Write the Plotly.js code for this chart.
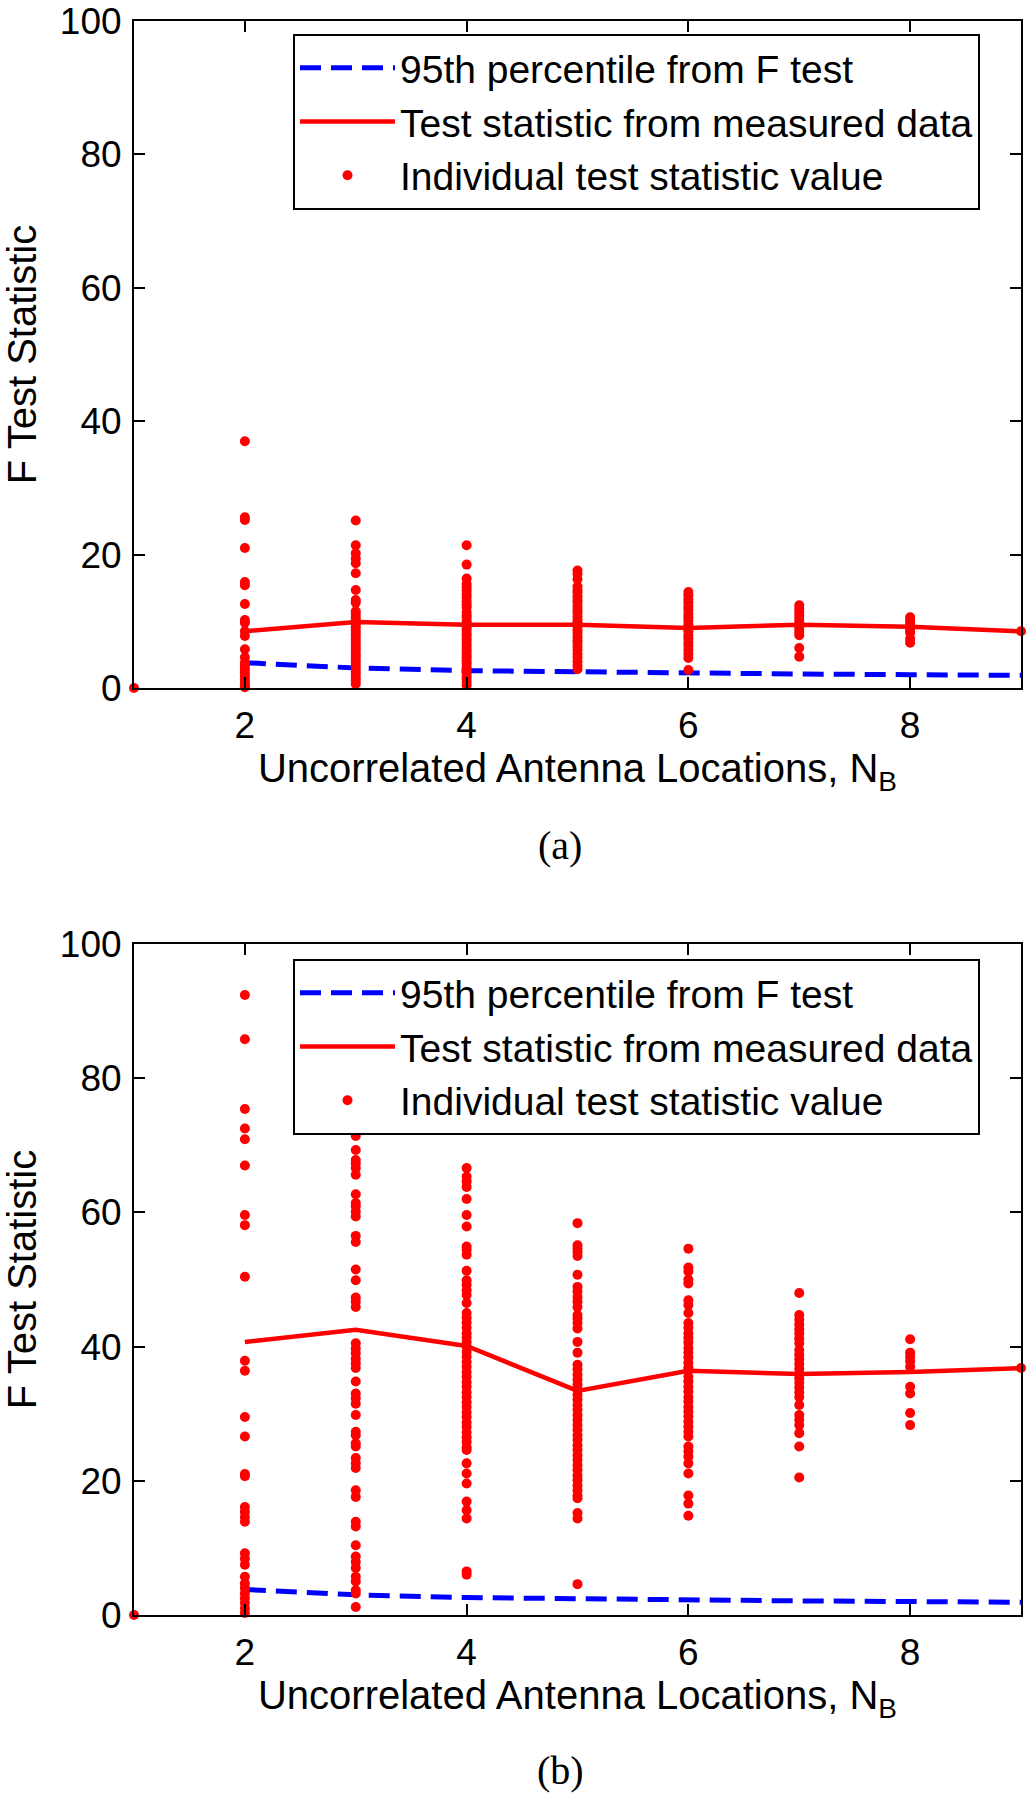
<!DOCTYPE html>
<html>
<head>
<meta charset="utf-8">
<script src="https://cdn.plot.ly/plotly-3.0.1.min.js"></script>
<style>
  body { margin: 0; background: #fff; }
  #chart { width: 1032px; height: 1800px; }
</style>
</head>
<body>
<div id="chart"></div>
<script>
const FONT = 'Liberation Sans, Arial, sans-serif'
const COLOR_RED = '#ff0000'
const COLOR_BLUE = '#0000ff'

// uncorrelated antenna locations N_B
const nb = [2, 3, 4, 5, 6, 7, 8, 9]

// 95th percentile from F test (same curve in both panels)
const fCrit = [3.8, 3.0, 2.6, 2.4, 2.2, 2.1, 2.0, 1.9]

// panel (a): test statistic from measured data
const statA = [8.5, 9.9, 9.5, 9.5, 9.0, 9.5, 9.2, 8.5]
// panel (a): individual values per N_B
const ptsA1 = [0]
const ptsA2 = [37.0, 25.6, 25.2, 21.0, 15.9, 15.4, 12.6, 10.2, 9.8, 8.5, 7.8, 5.8, 4.6, 3.8, 3.3, 2.8, 2.3, 1.8, 1.3, 0.8, 0.4, 0.1]
const ptsA3 = [25.1, 21.4, 20.2, 19.4, 18.7, 17.2, 14.7, 13.2, 12.8, 11.5, 11.1, 10.6, 10.2, 9.9, 9.5, 9.1, 8.6, 8.2, 7.8, 7.3, 6.9, 6.4, 6.0, 5.6, 5.1, 4.7, 4.2, 3.8, 3.3, 2.9, 2.4, 2.0, 1.5, 1.1, 0.6]
const ptsA4 = [21.4, 18.5, 16.4, 15.6, 15.1, 14.6, 14.1, 13.6, 13.0, 12.5, 12.1, 11.4, 10.9, 10.5, 10.0, 9.6, 9.1, 8.7, 8.2, 7.8, 7.3, 6.9, 6.4, 5.9, 5.5, 5.0, 4.6, 4.1, 3.7, 3.2, 2.7, 2.3, 1.8, 1.4, 0.9, 0.4]
const ptsA5 = [17.6, 17.1, 16.3, 15.2, 14.7, 14.3, 13.7, 13.2, 12.8, 12.2, 11.7, 11.3, 10.7, 10.2, 9.8, 9.2, 8.7, 8.3, 7.7, 7.2, 6.8, 6.2, 5.7, 5.1, 4.6, 4.0, 3.4, 2.8]
const ptsA6 = [14.4, 13.9, 13.3, 12.8, 12.2, 11.7, 11.1, 10.6, 10.1, 9.5, 9.0, 8.5, 7.9, 7.4, 6.8, 6.3, 5.7, 5.1, 4.5, 2.7]
const ptsA7 = [12.4, 11.9, 11.4, 10.9, 10.4, 9.9, 9.4, 8.9, 8.4, 7.9, 6.0, 4.7]
const ptsA8 = [10.6, 10.2, 9.8, 9.4, 9.0, 8.6, 8.3, 7.4, 6.8]
const ptsA9 = [8.5]

// panel (b): test statistic from measured data
const statB = [40.7, 42.5, 40.1, 33.4, 36.4, 35.9, 36.2, 36.8]
// panel (b): individual values per N_B
const ptsB1 = [0]
const ptsB2 = [92.4, 85.8, 75.4, 72.5, 70.9, 67.0, 59.6, 58.1, 50.4, 37.9, 36.4, 29.5, 26.6, 21.0, 20.7, 16.1, 15.4, 14.6, 13.9, 9.2, 8.4, 7.5, 5.7, 4.7, 4.0, 3.2, 2.5, 1.8, 1.0, 0.3]
const ptsB3 = [71.4, 69.3, 67.8, 67.3, 66.6, 65.6, 62.7, 61.4, 60.9, 60.1, 59.4, 56.5, 55.6, 51.5, 49.9, 47.3, 46.7, 45.9, 40.5, 39.7, 39.0, 38.2, 37.5, 36.8, 34.8, 33.0, 32.3, 31.5, 29.8, 27.3, 26.8, 25.6, 25.1, 23.4, 22.6, 21.9, 18.6, 17.6, 13.9, 13.2, 10.4, 8.7, 7.9, 7.0, 5.7, 5.0, 3.7, 3.2, 1.2]
const ptsB4 = [72.9, 66.6, 65.3, 64.6, 63.8, 62.0, 59.6, 57.9, 54.9, 54.4, 53.7, 51.3, 49.9, 49.2, 48.4, 47.7, 46.5, 45.0, 44.3, 43.6, 42.8, 42.0, 41.4, 40.7, 40.0, 39.2, 38.5, 37.7, 37.0, 36.2, 35.5, 34.7, 34.0, 33.2, 32.5, 31.7, 31.0, 30.2, 29.5, 28.7, 28.0, 27.2, 26.5, 25.8, 25.0, 24.6, 22.6, 21.1, 19.6, 16.9, 15.6, 14.4, 6.5, 6.0]
const ptsB5 = [58.4, 55.1, 54.6, 54.1, 53.5, 50.7, 48.9, 48.2, 47.4, 46.7, 45.9, 44.7, 44.2, 43.5, 42.7, 40.7, 39.1, 37.3, 36.6, 35.8, 35.1, 34.3, 33.6, 32.8, 32.1, 31.3, 30.6, 29.8, 29.1, 28.3, 27.6, 26.8, 26.1, 25.3, 24.6, 23.8, 23.1, 22.3, 21.6, 20.8, 20.1, 19.3, 18.6, 17.8, 17.4, 15.2, 14.4, 4.6]
const ptsB6 = [54.6, 51.8, 51.2, 50.0, 49.4, 46.9, 46.2, 45.0, 43.5, 42.8, 42.0, 41.3, 40.6, 39.8, 39.1, 38.4, 37.6, 36.9, 36.5, 35.5, 34.8, 34.0, 33.3, 32.5, 31.8, 31.0, 30.3, 29.6, 28.8, 28.1, 27.3, 26.6, 25.1, 24.4, 23.6, 22.6, 21.1, 17.8, 16.6, 14.8]
const ptsB7 = [48.0, 44.7, 44.0, 43.3, 42.6, 41.9, 41.2, 40.5, 39.5, 38.8, 38.1, 37.4, 36.7, 36.0, 35.3, 34.6, 33.9, 33.2, 32.5, 31.3, 29.8, 29.1, 28.3, 27.1, 25.1, 20.5]
const ptsB8 = [41.1, 39.1, 38.5, 37.8, 37.0, 34.0, 33.0, 30.1, 28.3]
const ptsB9 = [36.8]

const LEGEND_NAMES = [
  '95th percentile from F test',
  'Test statistic from measured data',
  'Individual test statistic value'
]
const X_TITLE = 'Uncorrelated Antenna Locations, N<sub>B</sub>'
const Y_TITLE = 'F Test Statistic'

function flatten (columns) {
  let x = []
  let y = []
  columns.forEach((col, i) => {
    col.forEach(v => {
      x.push(i + 1)
      y.push(v)
    })
  })
  return { x: x, y: y }
}

function panelTraces (stat, columns, xa, ya, legend) {
  let pts = flatten(columns)
  return [
    {
      x: nb, y: fCrit, xaxis: xa, yaxis: ya, legend: legend,
      name: LEGEND_NAMES[0], mode: 'lines', type: 'scatter',
      line: { color: COLOR_BLUE, width: 5, dash: '21px,10px' },
      cliponaxis: false
    },
    {
      x: nb, y: stat, xaxis: xa, yaxis: ya, legend: legend,
      name: LEGEND_NAMES[1], mode: 'lines', type: 'scatter',
      line: { color: COLOR_RED, width: 4.5 },
      cliponaxis: false
    },
    {
      x: pts.x, y: pts.y, xaxis: xa, yaxis: ya, legend: legend,
      name: LEGEND_NAMES[2], mode: 'markers', type: 'scatter',
      marker: { color: COLOR_RED, size: 10 },
      cliponaxis: false
    }
  ]
}

let traces = []
  .concat(panelTraces(statA, [ptsA1, ptsA2, ptsA3, ptsA4, ptsA5, ptsA6, ptsA7, ptsA8, ptsA9], 'x', 'y', 'legend'))
  .concat(panelTraces(statB, [ptsB1, ptsB2, ptsB3, ptsB4, ptsB5, ptsB6, ptsB7, ptsB8, ptsB9], 'x2', 'y2', 'legend2'))

function xAxis (anchor) {
  return {
    anchor: anchor,
    domain: [134 / 1032, 1021 / 1032],
    range: [1, 9],
    tickvals: [2, 4, 6, 8],
    ticks: 'inside', ticklen: 11, tickwidth: 2, tickcolor: '#000',
    showline: true, linecolor: '#000', linewidth: 2, mirror: 'ticks',
    showgrid: false, zeroline: false,
    ticklabelstandoff: 4,
    tickfont: { family: FONT, size: 37, color: '#000' },
    title: { text: X_TITLE, standoff: 9, font: { family: FONT, size: 40, color: '#000' } }
  }
}

function yAxis (anchor, domain) {
  return {
    anchor: anchor,
    domain: domain,
    range: [0, 100],
    dtick: 20,
    ticks: 'inside', ticklen: 11, tickwidth: 2, tickcolor: '#000',
    showline: true, linecolor: '#000', linewidth: 2, mirror: 'ticks',
    showgrid: false, zeroline: false,
    ticklabelstandoff: 3,
    tickfont: { family: FONT, size: 37, color: '#000' },
    title: { text: Y_TITLE, standoff: 22, font: { family: FONT, size: 40, color: '#000' } }
  }
}

function legendBox (y) {
  return {
    x: 293 / 1032, y: y, xanchor: 'left', yanchor: 'top',
    bgcolor: '#fff', bordercolor: '#000', borderwidth: 2,
    font: { family: FONT, size: 39, color: '#000' },
    itemwidth: 95, traceorder: 'normal'
  }
}

const layout = {
  width: 1032,
  height: 1800,
  margin: { l: 0, r: 0, t: 0, b: 0 },
  paper_bgcolor: '#fff',
  plot_bgcolor: '#fff',
  showlegend: true,
  xaxis: xAxis('y'),
  yaxis: yAxis('x', [1 - 688 / 1800, 1 - 21 / 1800]),
  xaxis2: xAxis('y2'),
  yaxis2: yAxis('x2', [1 - 1615 / 1800, 1 - 944 / 1800]),
  legend: legendBox(1 - 34 / 1800),
  legend2: legendBox(1 - 959 / 1800),
  annotations: [
    {
      text: '(a)', xref: 'paper', yref: 'paper', x: 560 / 1032, y: 1 - 845 / 1800,
      xanchor: 'center', yanchor: 'middle', showarrow: false,
      font: { family: 'Liberation Serif, Times New Roman, serif', size: 40, color: '#000' }
    },
    {
      text: '(b)', xref: 'paper', yref: 'paper', x: 560 / 1032, y: 1 - 1770 / 1800,
      xanchor: 'center', yanchor: 'middle', showarrow: false,
      font: { family: 'Liberation Serif, Times New Roman, serif', size: 40, color: '#000' }
    }
  ]
}

Plotly.newPlot('chart', traces, layout, { displayModeBar: false, staticPlot: true })
</script>
</body>
</html>
